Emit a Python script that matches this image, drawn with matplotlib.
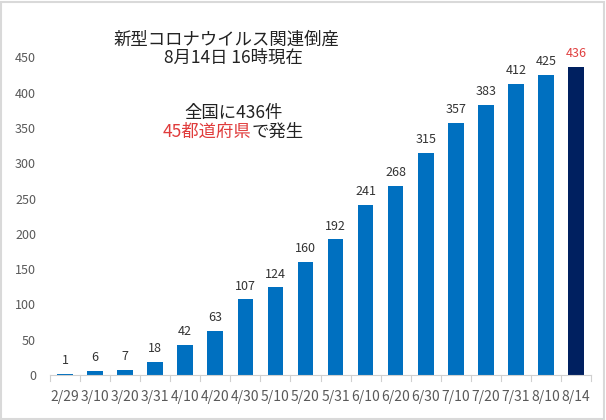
import matplotlib
matplotlib.use("Agg")
import matplotlib.pyplot as plt
from matplotlib.patches import Rectangle

plt.rcParams['font.family'] = ['Noto Sans CJK JP', 'DejaVu Sans']

categories = ["2/29", "3/10", "3/20", "3/31", "4/10", "4/20", "4/30", "5/10", "5/20",
              "5/31", "6/10", "6/20", "6/30", "7/10", "7/20", "7/31", "8/10", "8/14"]
values = [1, 6, 7, 18, 42, 63, 107, 124, 160, 192, 241, 268, 315, 357, 383, 412, 425, 436]
yticks = [0, 50, 100, 150, 200, 250, 300, 350, 400, 450]

fig = plt.figure(figsize=(6.06, 4.2), dpi=100)
ax = fig.add_axes([50/606, 1-375/420, 541/606, 353/420])

colors = ["#0070C0"] * (len(values) - 1) + ["#002060"]
x = list(range(len(values)))
ax.bar(x, values, width=0.52, color=colors, zorder=2)

for i, v in enumerate(values):
    ax.annotate(str(v), (i, v), xytext=(0, 5), textcoords="offset points",
                ha="center", va="bottom", fontsize=9,
                color="#E04040" if i == len(values) - 1 else "#333333")

ax.set_xlim(-0.5, len(values) - 0.5)
ax.set_ylim(0, 500)
ax.set_yticks(yticks)
ax.set_xticks(x)
ax.set_xticklabels(categories)
ax.tick_params(axis="x", length=0, pad=11, labelsize=10, colors="#595959")
ax.tick_params(axis="y", length=0, pad=10, labelsize=9, colors="#595959")
for s in ["top", "right", "left"]:
    ax.spines[s].set_visible(False)
ax.spines["bottom"].set_color("#D0D0D0")
for b in range(len(values) + 1):
    ax.plot([b - 0.5, b - 0.5], [0, -8], color="#D0D0D0", lw=0.8, clip_on=False, zorder=1)

fs = 12.5
fig.text(226/606, 1-40/420, "新型コロナウイルス関連倒産", ha="center", va="center", fontsize=fs, color="#222222")
fig.text(233/606, 1-58/420, "8月14日 16時現在", ha="center", va="center", fontsize=fs, color="#222222")
fig.text(234/606, 1-113/420, "全国に436件", ha="center", va="center", fontsize=fs, color="#222222")
t1 = fig.text(0, 1-132/420, "45都道府県", ha="left", va="center", fontsize=fs, color="#E03C3C")
t2 = fig.text(0, 1-132/420, "で発生", ha="left", va="center", fontsize=fs, color="#222222")
fig.canvas.draw()
w1 = t1.get_window_extent().width
w2 = t2.get_window_extent().width
left = 233 - (w1 + w2) / 2
t1.set_x(left/606)
t2.set_x((left + w1)/606)

fig.patches.append(Rectangle((0.002, 0.003), 0.995, 0.993, transform=fig.transFigure,
                             fill=False, edgecolor="#D9D9D9", lw=1.5))
fig.savefig("out.png", dpi=100)
